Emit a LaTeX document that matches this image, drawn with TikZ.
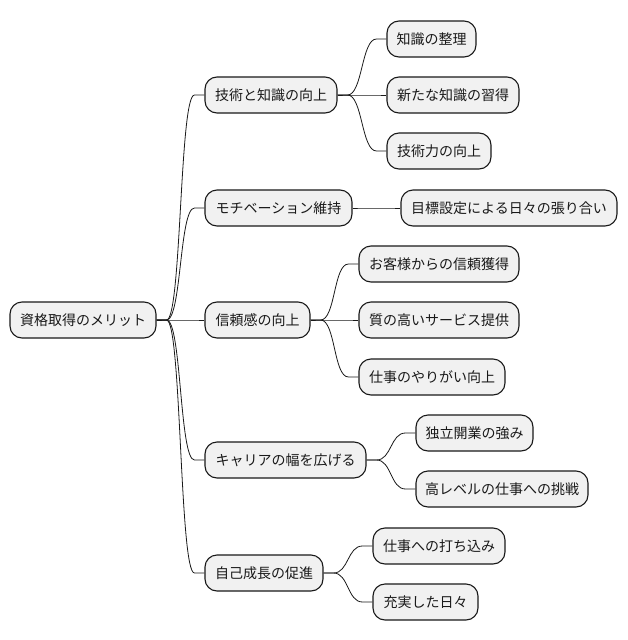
\documentclass[tikz,border=0pt]{standalone}
\usepackage{fontspec}
\setmainfont{Noto Sans CJK JP}
\usetikzlibrary{calc}
\tikzset{
  box/.style={draw=black!90, line width=1.1pt, fill=black!5.5, rounded corners=12pt,
    minimum height=36pt, inner sep=0pt, font=\fontsize{14pt}{16pt}\selectfont, text=black!90},
  mm/.style={line width=0.8pt, draw=black!90,
    to path={-- ++(10,0) .. controls ($(\tikztostart)+(25,0)$) and ($(\tikztotarget)+(-25,0)$) .. ($(\tikztotarget)+(-10,0)$) -- (\tikztotarget)}}
}
\begin{document}
\begin{tikzpicture}[x=1pt,y=-1pt]
\useasboundingbox (0,0) rectangle (628,640);
\node[box, minimum width=146pt] (r) at (83,320) {資格取得のメリット};
\node[box, minimum width=132pt] (a) at (271,95) {技術と知識の向上};
\node[box, minimum width=147pt] (b) at (278.5,208) {モチベーション維持};
\node[box, minimum width=105pt] (c) at (257.5,320) {信頼感の向上};
\node[box, minimum width=161pt] (d) at (285.5,460) {キャリアの幅を広げる};
\node[box, minimum width=118pt] (e) at (264,573) {自己成長の促進};
\node[box, minimum width=89pt] (a1) at (431.5,39) {知識の整理};
\node[box, minimum width=132pt] (a2) at (453,95) {新たな知識の習得};
\node[box, minimum width=104pt] (a3) at (439,151) {技術力の向上};
\node[box, minimum width=216pt] (b1) at (509,208) {目標設定による日々の張り合い};
\node[box, minimum width=160pt] (c1) at (439,264) {お客様からの信頼獲得};
\node[box, minimum width=160pt] (c2) at (439,320) {質の高いサービス提供};
\node[box, minimum width=146pt] (c3) at (432,377) {仕事のやりがい向上};
\node[box, minimum width=117pt] (d1) at (474.5,433) {独立開業の強み};
\node[box, minimum width=172pt] (d2) at (502,489) {高レベルの仕事への挑戦};
\node[box, minimum width=132pt] (e1) at (439,546) {仕事への打ち込み};
\node[box, minimum width=105pt] (e2) at (425.5,602) {充実した日々};
\foreach \p/\c in {r/a,r/b,r/c,r/d,r/e,a/a1,a/a2,a/a3,b/b1,c/c1,c/c2,c/c3,d/d1,d/d2,e/e1,e/e2}
  \draw[mm] (\p.east) to (\c.west);
\end{tikzpicture}
\end{document}
